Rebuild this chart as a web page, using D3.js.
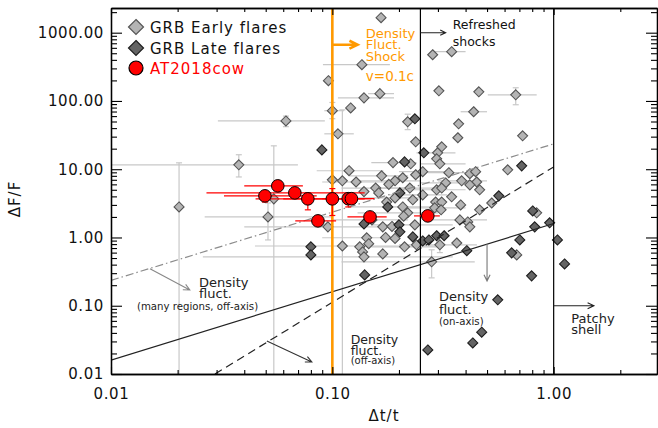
<!DOCTYPE html>
<html><head><meta charset="utf-8">
<script src="https://cdn.jsdelivr.net/npm/d3@7"></script>
<style>body{margin:0;background:#fff} svg{display:block} text{font-family:"DejaVu Sans",sans-serif}</style>
</head><body><svg id="c" width="658" height="428"></svg>
<script>
// ---- data ----
const xTicks = [0.01, 0.1, 1];
const xTickLabels = ["0.01", "0.10", "1.00"];
const yTicks = [0.01, 0.1, 1, 10, 100, 1000];
const yTickLabels = ["0.01", "0.10", "1.00", "10.00", "100.00", "1000.00"];

// [dt/t, dF/F, xlo, xhi, ylo, yhi]
const earlyFlares = [
  [0.096,198,null,null,null,null],[0.0617,51,0.0304,0.0925,42,60],[0.0378,11.6,0.008,0.0699,7.7,16.3],
  [0.0203,2.8,null,null,0.005,12.4],[0.0512,2.0,0.0265,0.1,0.92,3.2],[0.0544,3.68,null,null,0.005,22],
  [0.166,1660,null,null,null,null],[0.136,340,0.0907,0.182,null,null],[0.139,111,0.106,0.19,null,null],
  [0.164,128,0.145,0.19,null,null],[0.121,79,null,null,null,null],[0.1,72,0.092,0.113,55,95],
  [0.106,33,0.092,0.125,null,null],[0.284,475,null,null,null,null],[0.346,527,0.28,0.4,null,null],
  [0.303,141,null,null,null,null],[0.459,136,null,null,null,null],[0.674,123,0.504,0.838,88,156],
  [0.435,69.5,0.38,0.5,null,null],[0.372,46.3,null,null,null,null],[0.219,49.5,null,null,38,64],
  [0.369,28.9,null,null,null,null],[0.724,30.9,null,null,null,null],[0.238,25.2,null,null,null,null],
  [0.312,21.3,null,null,null,null],[0.299,17.4,0.24,0.36,null,null],[0.296,14.2,null,null,null,null],
  [0.306,12.0,0.25,0.4,null,null],[0.188,12.5,0.15,0.24,null,null],[0.226,12.0,null,null,null,null],
  [0.256,9.2,0.2,0.33,null,null],[0.238,8.3,null,null,null,null],[0.62,9.8,null,null,null,null],
  [0.336,8.9,0.27,0.42,null,null],[0.418,8.6,null,null,null,null],[0.444,9.2,null,null,null,null],
  [0.192,6.76,0.13,0.25,null,null],[0.208,7.5,null,null,null,null],[0.384,6.76,0.3,0.5,null,null],
  [0.449,6.5,null,null,null,null],[0.418,5.9,null,null,null,null],[0.325,6.3,0.25,0.4,null,null],
  [0.296,5.0,0.2,0.4,null,null],[0.312,5.3,null,null,null,null],[0.463,5.0,null,null,null,null],
  [0.224,5.3,0.15,0.3,null,null],[0.256,4.2,0.18,0.33,null,null],[0.346,3.94,null,null,null,null],
  [0.525,3.2,null,null,null,null],[0.192,3.8,0.12,0.26,null,null],[0.231,3.56,null,null,null,null],
  [0.208,2.8,0.12,0.3,null,null],[0.293,3.3,null,null,null,null],[0.312,3.3,null,null,null,null],
  [0.29,2.72,0.2,0.4,null,null],[0.31,2.54,null,null,null,null],[0.38,3.0,null,null,null,null],
  [0.219,2.3,0.13,0.3,null,null],[0.377,1.81,0.27,0.5,null,null],[0.409,1.69,null,null,null,null],
  [0.418,1.43,null,null,null,null],[0.463,2.54,null,null,null,null],[0.838,2.3,null,null,null,null],
  [0.681,0.556,null,null,null,null],[0.212,0.73,0.15,0.3,null,null],[0.306,0.78,0.2,0.45,0.6,1.0],
  [0.365,0.83,null,null,null,null],[0.236,1.53,0.15,0.35,null,null],[0.281,0.44,0.11,0.44,0.256,0.66],
  [0.119,9.5,0.085,0.17,null,null],[0.167,8.0,0.12,0.22,null,null],[0.1,7.0,null,null,null,null],
  [0.111,6.76,null,null,0.005,74],[0.128,6.5,0.09,0.18,null,null],[0.139,4.7,null,null,null,null],
  [0.157,5.3,0.11,0.22,null,null],[0.162,4.5,null,null,null,null],[0.0955,1.43,0.04,0.2,null,null],
  [0.151,1.81,0.1,0.22,null,null],[0.169,1.43,null,null,null,null],[0.143,0.99,0.09,0.2,null,null],
  [0.174,1.0,null,null,null,null],[0.111,0.75,0.0447,0.3,null,null],[0.133,0.73,null,null,null,null],
  [0.146,0.81,null,null,null,null],[0.137,0.615,null,null,null,null],[0.139,0.52,0.026,0.35,null,null],
  [0.169,0.575,null,null,null,null],[0.186,1.45,null,null,null,null],[0.192,0.97,null,null,null,null],
  [0.176,3.3,null,null,null,null],[0.21,2.05,null,null,null,null],[0.18,6.0,null,null,null,null],
  [0.24,0.78,null,null,null,null]
];

const lateFlares = [
  [0.0897,19.2],[0.08,0.73],[0.08,0.556],[0.178,2.8],[0.139,1.58],[0.14,0.283],[0.236,54.8],
  [0.259,17.4],[0.212,12.8],[0.717,11.2],[0.202,4.5],[0.565,4.07],[0.804,2.45],[0.959,1.64],
  [0.821,1.43],[1.04,0.92],[0.703,0.92],[0.405,0.64],[0.646,0.595],[0.2,1.53],[0.202,1.21],
  [0.231,1.02],[0.256,0.89],[0.273,0.92],[0.296,1.06],[0.32,1.06],[0.795,0.274],[0.559,0.122],
  [0.473,0.041],[0.431,0.0285],[0.27,0.0225],[1.12,0.41]
];

// [dt/t, dF/F, xlo, xhi, ylo, yhi]
const at2018cow = [
  [0.0496,4.07,0.0324,0.085,3.3,4.6],[0.0567,5.7,0.04,0.0736,5.0,6.4],[0.0677,4.5,0.027,0.14,3.9,5.2],
  [0.0775,3.68,0.045,0.12,2.54,4.5],[0.1,3.68,0.06,0.14,2.1,5.2],[0.118,3.7,0.09,0.15,2.8,4.4],
  [0.122,3.7,0.1,0.155,3.1,4.3],[0.0861,1.75,0.068,0.104,1.55,1.95],[0.148,2.0,0.117,0.176,1.8,2.2],
  [0.27,2.07,0.234,0.306,1.85,2.3]
];

// model limit lines, end points
const solidLine = [[0.01, 0.016], [1, 1.6]];
const dashedLine = [[0.0295, 0.01], [1, 10.8]];
const dashDotLine = [[0.01, 0.235], [1, 23.5]];
const regimeLines = [0.25, 1.0];
const shockLine = 0.1;

// ---- drawing ----
const svg = d3.select("#c");
const x = d3.scaleLog().domain([0.01, 2.93]).range([111, 657]);
const y = d3.scaleLog().domain([0.01, 2300]).range([374, 8]);
const [X0, X1] = x.range(), [Y0, Y1] = y.range();

svg.append("defs").append("clipPath").attr("id", "clip")
  .append("rect").attr("x", X0).attr("y", Y1).attr("width", X1 - X0).attr("height", Y0 - Y1);
const plot = svg.append("g").attr("clip-path", "url(#clip)");

const ebColor = "#c8c8c8";
function errorBars(g, data, color, cap) {
  data.forEach(d => {
    const [vx, vy, xlo, xhi, ylo, yhi] = d;
    if (xlo != null) g.append("line").attr("x1", x(xlo)).attr("x2", x(xhi)).attr("y1", y(vy)).attr("y2", y(vy))
      .attr("stroke", color).attr("stroke-width", 1.2);
    if (ylo != null) {
      g.append("line").attr("x1", x(vx)).attr("x2", x(vx)).attr("y1", y(ylo)).attr("y2", y(yhi))
        .attr("stroke", color).attr("stroke-width", 1.2);
      [ylo, yhi].forEach(v => g.append("line").attr("x1", x(vx) - cap).attr("x2", x(vx) + cap)
        .attr("y1", y(v)).attr("y2", y(v)).attr("stroke", color).attr("stroke-width", 1.2));
    }
  });
}
errorBars(plot, earlyFlares, ebColor, 3);

const diamond = r => `M0,${-r}L${r},0L0,${r}L${-r},0Z`;
plot.selectAll(".early").data(earlyFlares).join("path")
  .attr("d", diamond(5)).attr("transform", d => `translate(${x(d[0])},${y(d[1])})`)
  .attr("fill", "#b4b4b4").attr("stroke", "#555").attr("stroke-width", 1.1);
plot.selectAll(".late").data(lateFlares).join("path")
  .attr("d", diamond(5)).attr("transform", d => `translate(${x(d[0])},${y(d[1])})`)
  .attr("fill", "#646464").attr("stroke", "#1e1e1e").attr("stroke-width", 1.1);

const line = d3.line().x(d => x(d[0])).y(d => y(d[1]));
plot.append("path").attr("d", line(solidLine)).attr("stroke", "#222").attr("stroke-width", 1.2).attr("fill", "none");
plot.append("path").attr("d", line(dashedLine)).attr("stroke", "#222").attr("stroke-width", 1.2).attr("fill", "none")
  .attr("stroke-dasharray", "8,5");
plot.append("path").attr("d", line(dashDotLine)).attr("stroke", "#8c8c8c").attr("stroke-width", 1.2).attr("fill", "none")
  .attr("stroke-dasharray", "8,3,1.5,3");

regimeLines.forEach(v => plot.append("line").attr("x1", x(v)).attr("x2", x(v)).attr("y1", Y0).attr("y2", Y1)
  .attr("stroke", "#000").attr("stroke-width", 1.2));
plot.append("line").attr("x1", x(shockLine)).attr("x2", x(shockLine)).attr("y1", Y0).attr("y2", Y1)
  .attr("stroke", "#ff9900").attr("stroke-width", 2.6);

errorBars(plot, at2018cow, "#ff0000", 3);
plot.selectAll(".cow").data(at2018cow).join("circle")
  .attr("cx", d => x(d[0])).attr("cy", d => y(d[1])).attr("r", 6.3)
  .attr("fill", "#ff0000").attr("stroke", "#000").attr("stroke-width", 1);

// ---- axes ----
const minor = [];
[0.01, 0.1, 1, 10, 100, 1000].forEach(dec => { for (let m = 2; m <= 9; m++) minor.push(dec * m); });
const xMinor = minor.filter(v => v > 0.01 && v < 2.93);
const yMinor = minor.filter(v => v > 0.01 && v < 2300);
const fontAxis = 15;

function styleAxis(g) {
  g.selectAll("path.domain").attr("stroke", "#000").attr("stroke-width", 1.3);
  g.selectAll(".tick line").attr("stroke", "#000").attr("stroke-width", 1.1);
  g.selectAll("text").attr("font-family", "DejaVu Sans").attr("font-size", fontAxis)
    .attr("fill", "#111").attr("letter-spacing", 0.6);
}
const gB = svg.append("g").attr("transform", `translate(0,${Y0})`)
  .call(d3.axisBottom(x).tickValues(xTicks).tickFormat((d, i) => xTickLabels[i]).tickSizeInner(-7).tickSizeOuter(0).tickPadding(14));
styleAxis(gB);
svg.append("g").attr("transform", `translate(0,${Y0})`)
  .call(d3.axisBottom(x).tickValues(xMinor).tickFormat("").tickSizeInner(-4).tickSizeOuter(0)).call(styleAxis);
svg.append("g").attr("transform", `translate(0,${Y1})`)
  .call(d3.axisTop(x).tickValues(xTicks).tickFormat("").tickSizeInner(-7).tickSizeOuter(0)).call(styleAxis);
svg.append("g").attr("transform", `translate(0,${Y1})`)
  .call(d3.axisTop(x).tickValues(xMinor).tickFormat("").tickSizeInner(-4).tickSizeOuter(0)).call(styleAxis);
svg.append("g").attr("transform", `translate(${X0},0)`)
  .call(d3.axisLeft(y).tickValues(yTicks).tickFormat((d, i) => yTickLabels[i]).tickSizeInner(-11).tickSizeOuter(0).tickPadding(7)).call(styleAxis);
svg.append("g").attr("transform", `translate(${X0},0)`)
  .call(d3.axisLeft(y).tickValues(yMinor).tickFormat("").tickSizeInner(-6).tickSizeOuter(0)).call(styleAxis);
svg.append("g").attr("transform", `translate(${X1},0)`)
  .call(d3.axisRight(y).tickValues(yTicks).tickFormat("").tickSizeInner(-11).tickSizeOuter(0)).call(styleAxis);
svg.append("g").attr("transform", `translate(${X1},0)`)
  .call(d3.axisRight(y).tickValues(yMinor).tickFormat("").tickSizeInner(-6).tickSizeOuter(0)).call(styleAxis);

svg.append("text").attr("x", (X0 + X1) / 2).attr("y", 421).attr("text-anchor", "middle")
  .attr("font-size", 15).attr("letter-spacing", 1).attr("fill", "#111").text("Δt/t");
svg.append("text").attr("transform", `translate(20,${(Y0 + Y1) / 2 + 8}) rotate(-90)`).attr("text-anchor", "middle")
  .attr("font-size", 15).attr("letter-spacing", 1).attr("fill", "#111").text("ΔF/F");

// ---- annotations ----
function arrow(p1, p2, color, w, head) {
  const x1 = x(p1[0]), y1 = y(p1[1]), x2 = x(p2[0]), y2 = y(p2[1]);
  const a = Math.atan2(y2 - y1, x2 - x1), s = 0.45;
  const pth = `M${x1},${y1}L${x2},${y2}M${x2 - head * Math.cos(a - s)},${y2 - head * Math.sin(a - s)}L${x2},${y2}L${x2 - head * Math.cos(a + s)},${y2 - head * Math.sin(a + s)}`;
  svg.append("path").attr("d", pth).attr("stroke", color).attr("stroke-width", w).attr("fill", "none");
}
arrow([0.015, 0.347], [0.0227, 0.17], "#888", 1.1, 7);
arrow([0.0506, 0.0305], [0.0808, 0.015], "#333", 1.1, 7);
arrow([0.5, 0.8], [0.5, 0.23], "#777", 1.1, 7);
arrow([1.0, 0.1], [1.52, 0.1], "#222", 1.1, 7);
arrow([0.25, 1000], [0.325, 1000], "#222", 1.1, 6);
arrow([0.1, 667], [0.13, 667], "#ff9900", 2.6, 9);

function label(pos, lines, color, sizes, gaps) {
  const t = svg.append("g");
  let dy = 0;
  lines.forEach((s, i) => {
    dy += gaps[i];
    t.append("text").attr("x", x(pos[0])).attr("y", y(pos[1]) + dy).attr("font-size", sizes[i])
      .attr("fill", color).text(s);
  });
}
label([0.1417, 845], ["Density", "Fluct.", "Shock"], "#ff9900", [13, 13, 13], [0, 11.5, 11.5]);
label([0.1417, 198], ["v=0.1c"], "#ff9900", [13.5], [0]);
label([0.35, 1145], ["Refreshed", "shocks"], "#111", [12.5, 12.5], [0, 17]);
label([0.025, 0.189], ["Density", "fluct."], "#222", [13, 13], [0, 11]);
label([0.0131, 0.0868], ["(many regions, off-axis)"], "#222", [10.2], [0]);
label([0.121, 0.0275], ["Density", "fluct.", "(off-axis)"], "#222", [12.5, 12.5, 10], [0, 10.5, 9.5]);
label([0.303, 0.1175], ["Density", "fluct.", "(on-axis)"], "#222", [13, 13, 10.2], [0, 13, 11.5]);
label([1.2, 0.056], ["Patchy", "shell"], "#222", [13, 13], [0, 11.5]);

// ---- legend ----
const leg = svg.append("g");
const legItems = [
  {t: "GRB Early flares", fill: "#b4b4b4", stroke: "#555", color: "#111", kind: "d", yv: 27},
  {t: "GRB Late flares", fill: "#646464", stroke: "#1e1e1e", color: "#111", kind: "d", yv: 48},
  {t: "AT2018cow", fill: "#ff0000", stroke: "#000", color: "#ff0000", kind: "c", yv: 68}
];
legItems.forEach(it => {
  if (it.kind === "d") leg.append("path").attr("d", diamond(7.5)).attr("transform", `translate(136,${it.yv})`)
    .attr("fill", it.fill).attr("stroke", it.stroke).attr("stroke-width", 1.2);
  else leg.append("circle").attr("cx", 136).attr("cy", it.yv).attr("r", 7).attr("fill", it.fill)
    .attr("stroke", it.stroke).attr("stroke-width", 1.2);
  leg.append("text").attr("x", 150).attr("y", it.yv + 6).attr("font-size", 15).attr("letter-spacing", 1)
    .attr("fill", it.color).text(it.t);
});
</script></body></html>
